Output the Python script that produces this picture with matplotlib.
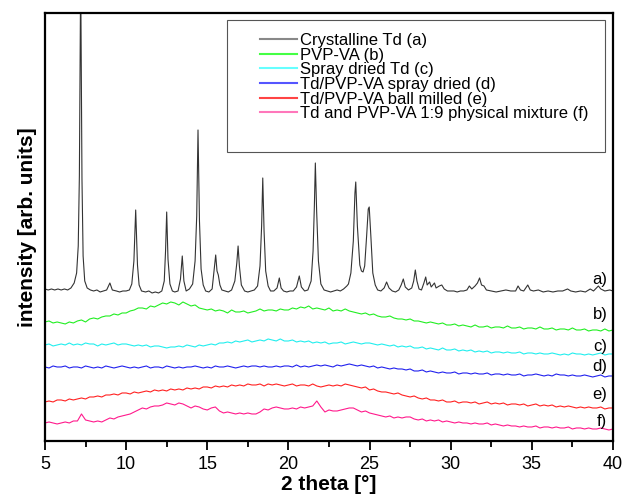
import numpy as np
import matplotlib
matplotlib.use('Agg')
import matplotlib.pyplot as plt
from matplotlib.patches import Rectangle
from matplotlib.ticker import MultipleLocator, NullLocator

plt.rcParams['font.family'] = ['Liberation Sans', 'DejaVu Sans']

# crystalline Td trace (2theta, counts), peaks picked by hand
tth_a = [5.0, 5.2, 5.4, 5.6, 5.8, 6.0, 6.2, 6.4, 6.6, 6.8, 6.95, 7.05, 7.12, 7.2, 7.28, 7.35,
         7.45, 7.6, 7.8, 8.0, 8.2, 8.4, 8.6, 8.8, 9.0, 9.15, 9.4, 9.6, 9.8, 10.0, 10.2, 10.35,
         10.48, 10.59, 10.7, 10.8, 10.95, 11.2, 11.4, 11.6, 11.8, 12.0, 12.2, 12.35, 12.43, 12.5,
         12.58, 12.7, 12.85, 13.0, 13.2, 13.35, 13.46, 13.56, 13.7, 13.9, 14.1, 14.25, 14.35, 14.43,
         14.52, 14.62, 14.75, 14.9, 15.1, 15.3, 15.42, 15.52, 15.6, 15.68, 15.78, 15.9, 16.1, 16.3,
         16.5, 16.7, 16.82, 16.9, 16.98, 17.1, 17.3, 17.5, 17.7, 17.9, 18.1, 18.25, 18.35, 18.42,
         18.5, 18.6, 18.75, 18.9, 19.1, 19.3, 19.44, 19.55, 19.7, 19.9, 20.1, 20.3, 20.5, 20.67,
         20.8, 21.0, 21.2, 21.4, 21.52, 21.6, 21.66, 21.74, 21.85, 22.0, 22.2, 22.4, 22.6, 22.8,
         23.0, 23.2, 23.4, 23.6, 23.7, 23.85, 24.0, 24.1, 24.15, 24.25, 24.4, 24.5, 24.6, 24.7,
         24.82, 24.92, 24.98, 25.08, 25.2, 25.35, 25.5, 25.7, 25.9, 26.05, 26.2, 26.4, 26.6, 26.8,
         26.95, 27.08, 27.2, 27.4, 27.6, 27.72, 27.82, 27.92, 28.05, 28.2, 28.35, 28.46, 28.55, 28.7,
         28.8, 29.0, 29.1, 29.3, 29.45, 29.6, 29.8, 30.0, 30.2, 30.4, 30.6, 30.8, 31.0, 31.15,
         31.3, 31.5, 31.65, 31.78, 31.9, 32.05, 32.2, 32.5, 32.8, 33.1, 33.4, 33.7, 34.0, 34.15,
         34.3, 34.5, 34.75, 34.9, 35.1, 35.4, 35.7, 36.0, 36.3, 36.6, 36.9, 37.2, 37.4, 37.7,
         38.0, 38.3, 38.6, 38.8, 39.1, 39.25, 39.5, 39.8, 40.0]
int_a = [152, 151, 152, 151, 152, 151, 152, 151, 153, 158, 168, 195, 265, 470, 262, 185,
         160, 153, 151, 150, 151, 149, 150, 151, 158, 151, 150, 149, 150, 150, 151, 157,
         180, 231, 176, 156, 150, 149, 150, 148, 149, 148, 150, 160, 190, 229,
         182, 157, 150, 149, 150, 162, 185, 160, 150, 152, 157, 180, 225, 311,
         220, 172, 156, 150, 149, 152, 170, 186, 170, 166, 156, 151, 150, 149,
         151, 160, 178, 195, 175, 156, 150, 149, 150, 151, 155, 175, 215, 263,
         210, 170, 155, 150, 150, 153, 163, 153, 150, 149, 150, 150, 154, 165,
         154, 150, 151, 160, 190, 235, 278, 230, 180, 157, 151, 150, 149, 150,
         151, 150, 152, 155, 157, 168, 200, 248, 259, 215, 176, 170, 169, 175,
         205, 232, 234, 205, 168, 156, 151, 150, 153, 159, 153, 150, 149, 151,
         156, 162, 154, 151, 153, 160, 171, 160, 152, 151, 158, 164, 156, 159,
         154, 158, 153, 155, 156, 152, 150, 150, 150, 149, 150, 150, 151, 155,
         152, 155, 158, 163, 156, 155, 151, 150, 149, 150, 151, 150, 150, 155,
         151, 150, 156, 151, 150, 151, 149, 150, 149, 150, 150, 152, 150, 149,
         150, 149, 152, 150, 155, 152, 150, 151, 150]

# amorphous samples, 2theta 5..40 in 0.25 deg steps (offset stacked)
tth_grid = np.linspace(5, 40, 141)

int_b = [119, 120, 118, 119, 118, 117, 119, 118, 120, 121, 119, 122, 123, 122, 124, 125,
         125, 127, 126, 128, 128, 130, 131, 133, 133, 132, 135, 134, 136, 138, 137, 139,
         138, 136, 139, 137, 135, 136, 133, 132, 131, 132, 130, 131, 130, 128, 131, 129,
         129, 130, 128, 129, 130, 132, 130, 131, 131, 130, 132, 131, 131, 133, 132, 134,
         133, 135, 132, 133, 132, 131, 133, 130, 131, 130, 132, 130, 129, 128, 127, 128,
         126, 127, 125, 124, 124, 125, 123, 122, 122, 121, 122, 120, 120, 119, 118, 119,
         118, 117, 118, 116, 116, 117, 115, 116, 115, 114, 116, 114, 114, 115, 113, 114,
         114, 113, 115, 113, 113, 114, 112, 113, 113, 112, 114, 112, 112, 113, 111, 112,
         112, 111, 113, 111, 111, 112, 110, 111, 111, 110, 112, 110, 111]

int_c = [96, 97, 95, 96, 97, 96, 98, 96, 97, 96, 98, 97, 97, 95, 97, 96,
         97, 98, 96, 97, 97, 96, 95, 96, 95, 96, 94, 95, 95, 94, 93, 94,
         94, 95, 94, 96, 95, 94, 96, 95, 96, 97, 96, 98, 98, 99, 98, 100,
         99, 100, 101, 99, 100, 101, 100, 102, 101, 100, 102, 100, 100, 101, 99, 100,
         99, 100, 98, 99, 98, 99, 97, 98, 98, 99, 97, 98, 99, 98, 97, 98,
         98, 97, 96, 97, 96, 95, 96, 94, 95, 94, 95, 93, 93, 94, 92, 93,
         92, 91, 93, 91, 91, 92, 90, 91, 90, 91, 89, 90, 89, 90, 88, 89,
         89, 88, 89, 88, 88, 89, 87, 88, 88, 87, 88, 87, 87, 88, 87, 86,
         87, 86, 88, 87, 87, 86, 87, 86, 87, 88, 86, 87, 87]

int_d = [74, 73, 75, 74, 74, 75, 73, 74, 74, 73, 75, 74, 73, 74, 73, 75,
         74, 73, 74, 75, 74, 73, 74, 73, 74, 75, 73, 74, 74, 73, 75, 74,
         73, 74, 73, 74, 74, 75, 74, 73, 74, 73, 75, 74, 74, 75, 74, 73,
         74, 75, 74, 75, 75, 74, 75, 74, 74, 75, 74, 75, 75, 74, 76, 74,
         75, 74, 75, 76, 75, 76, 75, 74, 76, 75, 76, 77, 76, 75, 76, 75,
         74, 75, 73, 74, 73, 72, 73, 72, 72, 71, 72, 70, 70, 71, 69, 70,
         69, 68, 69, 68, 68, 69, 67, 68, 68, 67, 68, 67, 67, 68, 66, 67,
         67, 66, 67, 66, 66, 67, 65, 66, 66, 67, 66, 65, 66, 65, 67, 66,
         66, 65, 66, 65, 65, 66, 65, 64, 65, 66, 64, 65, 65]

int_e = [39, 40, 39, 41, 41, 40, 42, 41, 42, 43, 42, 44, 44, 45, 44, 46,
         46, 47, 46, 48, 48, 47, 49, 48, 49, 50, 49, 51, 50, 51, 50, 52,
         51, 52, 51, 53, 52, 53, 52, 54, 54, 53, 55, 54, 55, 54, 56, 55,
         56, 55, 57, 56, 56, 57, 55, 57, 56, 57, 56, 55, 56, 57, 55, 56,
         56, 55, 57, 55, 54, 55, 56, 55, 56, 55, 57, 56, 55, 54, 53, 54,
         51, 52, 50, 49, 49, 48, 47, 48, 46, 45, 44, 45, 43, 42, 43, 41,
         41, 40, 41, 39, 39, 40, 38, 39, 39, 38, 39, 37, 38, 39, 37, 38,
         37, 38, 36, 37, 37, 36, 37, 35, 36, 37, 35, 36, 35, 36, 34, 35,
         34, 35, 34, 33, 34, 33, 34, 33, 33, 34, 32, 33, 33]

int_f = [18, 19, 18, 17, 18, 19, 18, 20, 20, 27, 21, 20, 19, 20, 19, 21,
         23, 22, 24, 25, 26, 27, 29, 31, 33, 32, 34, 35, 35, 36, 38, 37,
         36, 38, 37, 35, 33, 35, 34, 32, 31, 33, 34, 30, 28, 29, 28, 27,
         28, 27, 28, 27, 27, 29, 32, 31, 33, 34, 33, 32, 32, 33, 32, 34,
         33, 34, 35, 40, 34, 29, 31, 30, 30, 31, 32, 33, 33, 31, 29, 30,
         28, 27, 26, 25, 24, 25, 23, 24, 23, 24, 24, 22, 21, 22, 20, 21,
         20, 21, 19, 20, 19, 18, 19, 18, 18, 17, 18, 17, 17, 18, 16, 17,
         16, 15, 16, 15, 15, 14, 15, 14, 14, 15, 13, 14, 14, 13, 14, 13,
         13, 14, 12, 13, 13, 12, 13, 12, 12, 13, 12, 11, 12]

labels = ['Crystalline Td (a)', 'PVP-VA (b)', 'Spray dried Td (c)',
          'Td/PVP-VA spray dried (d)', 'Td/PVP-VA ball milled (e)',
          'Td and PVP-VA 1:9 physical mixture (f)']
tags = ['a)', 'b)', 'c)', 'd)', 'e)', 'f)']
tag_y = [161, 126, 94, 74, 46, 19]
colors = ['#333333', '#22ee22', '#22eeee', '#2222ee', '#ff2222', '#ff1a8c']
legend_colors = ['#888888', '#44ff44', '#66ffff', '#5555ff', '#ff4444', '#ff77bb']

fig = plt.figure(figsize=(6.22, 4.98), dpi=100)
ax = fig.add_axes([0.0723, 0.1145, 0.9132, 0.8594])

ax.plot(tth_a, int_a, color=colors[0], lw=0.8)
for y, c in zip([int_b, int_c, int_d, int_e, int_f], colors[1:]):
    ax.plot(tth_grid, y, color=c, lw=0.8)

ax.set_xlim(5, 40)
ax.set_ylim(0, 428)

for t, y in zip(tags, tag_y):
    ax.text(39.65, y, t, ha='right', va='center', fontsize=12)

# legend: thin box, frameless legend inside
handles = [plt.Line2D([], [], color=c, lw=1.5) for c in legend_colors]
ax.add_patch(Rectangle((182 / 568, 289 / 428), 378 / 568, 132 / 428,
                       transform=ax.transAxes, fill=False, ec='#555555', lw=0.8, zorder=5))
ax.legend(handles, labels, loc='upper left', bbox_to_anchor=(215 / 568, 408 / 428),
          frameon=False, fontsize=12, handlelength=2.2, handletextpad=0.18,
          labelspacing=-0.02, borderpad=0, borderaxespad=0)

ax.xaxis.set_major_locator(MultipleLocator(5))
ax.xaxis.set_minor_locator(MultipleLocator(2.5))
ax.yaxis.set_major_locator(NullLocator())
ax.yaxis.set_minor_locator(NullLocator())
ax.tick_params(axis='x', which='major', direction='out', length=6.5, width=1.3,
               labelsize=13, pad=4)
ax.tick_params(axis='x', which='minor', direction='out', length=4, width=1.3)
ax.tick_params(top=False, right=False)
for s in ax.spines.values():
    s.set_linewidth(1.6)

ax.set_xlabel('2 theta [°]', fontsize=15, fontweight='bold', labelpad=2)
ax.set_ylabel('intensity [arb. units]', fontsize=15, fontweight='bold', labelpad=6)

fig.savefig('out.png', dpi=100)
